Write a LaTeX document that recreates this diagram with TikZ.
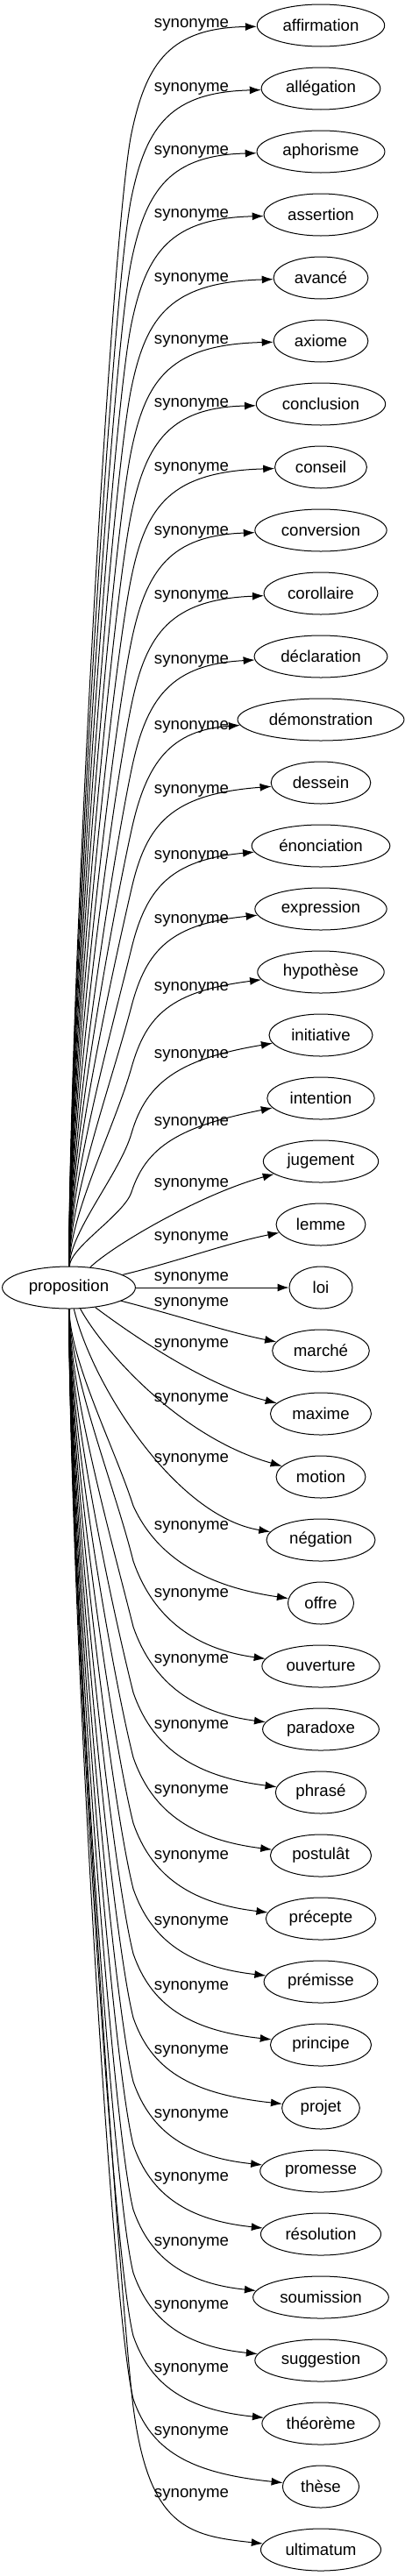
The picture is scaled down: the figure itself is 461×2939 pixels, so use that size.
\documentclass[tikz,border=0pt]{standalone}
\usepackage{fontspec}
\setmainfont{Liberation Sans}
\usetikzlibrary{arrows.meta,shapes.geometric}
\begin{document}
\begin{tikzpicture}[x=1pt,y=-1pt,font=\fontsize{18.67}{22}\selectfont,
  tnode/.style={draw,ellipse,inner xsep=8pt,inner ysep=2pt,minimum width=72pt,minimum height=48pt,line width=1pt},
  lbl/.style={inner sep=0pt},
  edge/.style={line width=1pt,-{Latex[length=13pt,width=9pt]}}]
\useasboundingbox (0,0) rectangle (461,2939);
\node[tnode] (p) at (78.5,1469) {proposition};
\foreach \i/\w in {0/affirmation,1/allégation,2/aphorisme,3/assertion,4/avancé,5/axiome,6/conclusion,7/conseil,8/conversion,9/corollaire,10/déclaration,11/démonstration,12/dessein,13/énonciation,14/expression,15/hypothèse,16/initiative,17/intention,18/jugement,19/lemme,20/loi,21/marché,22/maxime,23/motion,24/négation,25/offre,26/ouverture,27/paradoxe,28/phrasé,29/postulât,30/précepte,31/prémisse,32/principe,33/projet,34/promesse,35/résolution,36/soumission,37/suggestion,38/théorème,39/thèse,40/ultimatum}
  \node[tnode] (t\i) at (366,{29+72*\i}) {\w};
\foreach \i/\y in {0/28,1/101,2/173,3/245,4/318,5/389,6/461,7/534,8/607,9/680,10/754,11/829,12/902,13/977,14/1050,15/1127,16/1204,17/1281,18/1351,19/1412,20/1458,21/1487,22/1534,23/1596,24/1665,25/1742,26/1819,27/1894,28/1969,29/2043,30/2118,31/2193,32/2267,33/2340,34/2413,35/2485,36/2559,37/2631,38/2703,39/2775,40/2846}
  \node[lbl] (l\i) at (218.5,\y) {synonyme};
% upper edges
\draw[edge] (p) .. controls (80,1096.6) and (127.6,260) .. (150,152) .. controls (167,70.2) and (195,32) .. (t0);
\draw[edge] (p) .. controls (80,1116.3) and (127.6,333) .. (150,225) .. controls (167,143.2) and (195,105) .. (t1);
\draw[edge] (p) .. controls (80,1135.8) and (127.6,405) .. (150,297) .. controls (167,215.2) and (195,177) .. (t2);
\draw[edge] (p) .. controls (80,1155.5) and (127.6,477) .. (150,369) .. controls (167,287.2) and (195,249) .. (t3);
\draw[edge] (p) .. controls (80,1175.2) and (127.6,550) .. (150,442) .. controls (167,360.2) and (195,322) .. (t4);
\draw[edge] (p) .. controls (80,1194.1) and (127.6,621) .. (150,513) .. controls (167,431.2) and (195,393) .. (t5);
\draw[edge] (p) .. controls (80,1213.5) and (127.6,693) .. (150,585) .. controls (167,503.2) and (195,465) .. (t6);
\draw[edge] (p) .. controls (80,1233.2) and (127.6,766) .. (150,658) .. controls (167,576.2) and (195,538) .. (t7);
\draw[edge] (p) .. controls (80,1253.0) and (127.6,839) .. (150,731) .. controls (167,649.2) and (195,611) .. (t8);
\draw[edge] (p) .. controls (80,1272.7) and (127.6,912) .. (150,804) .. controls (167,722.2) and (195,684) .. (t9);
\draw[edge] (p) .. controls (80,1292.6) and (127.6,986) .. (150,878) .. controls (167,796.2) and (195,758) .. (t10);
\draw[edge] (p) .. controls (80,1311.3) and (126.4,1055) .. (150,947) .. controls (167,869.1) and (195,833) .. (t11);
\draw[edge] (p) .. controls (80,1329.4) and (125.2,1122) .. (150,1014) .. controls (167,940.1) and (195,906) .. (t12);
\draw[edge] (p) .. controls (80,1347.7) and (123.5,1190) .. (150,1082) .. controls (167,1012.7) and (195,981) .. (t13);
\draw[edge] (p) .. controls (80,1365.5) and (126.5,1237.4) .. (150,1148) .. controls (167,1083.3) and (195,1054) .. (t14);
\draw[edge] (p) .. controls (80,1384.4) and (130.6,1286.4) .. (150,1218) .. controls (167,1157.9) and (195,1131) .. (t15);
\draw[edge] (p) .. controls (80,1404.7) and (136.7,1338.9) .. (150,1293) .. controls (167,1234.3) and (205,1208) .. (t16);
\draw[edge] (p) .. controls (80,1422.8) and (141.6,1385.8) .. (150,1360) .. controls (167,1307.9) and (205,1285) .. (t17);
\draw[edge] (p) .. controls (130,1420) and (230,1362) .. (t18);
\draw[edge] (p) .. controls (200,1440) and (260,1418) .. (t19);
\draw[edge] (p) -- (t20);
% lower edges
\draw[edge] (p) .. controls (200,1500) and (260,1520) .. (t21);
\draw[edge] (p) .. controls (140,1515) and (230,1580) .. (t22);
\draw[edge] (p) .. controls (117,1540) and (205,1640) .. (t23);
\draw[edge] (p) .. controls (105,1580) and (200,1730) .. (t24);
\draw[edge] (p) .. controls (80,1553) and (130,1650) .. (152,1718) .. controls (172,1762) and (215,1807) .. (t25);
\draw[edge] (p) .. controls (80,1570) and (130.3,1694.3) .. (152,1781) .. controls (172,1839) and (215,1880.5) .. (t26);
\draw[edge] (p) .. controls (80,1590.3) and (127,1756) .. (152,1856) .. controls (172,1914) and (215,1953.3) .. (t27);
\draw[edge] (p) .. controls (80,1610.5) and (127,1831) .. (152,1931) .. controls (172,1989) and (215,2026) .. (t28);
\draw[edge] (p) .. controls (80,1630.5) and (127,1905) .. (152,2005) .. controls (172,2063) and (215,2098.5) .. (t29);
\draw[edge] (p) .. controls (80,1650.8) and (127,1980) .. (152,2080) .. controls (172,2138) and (215,2171.3) .. (t30);
\draw[edge] (p) .. controls (80,1671) and (127,2055) .. (152,2155) .. controls (172,2213) and (215,2244) .. (t31);
\draw[edge] (p) .. controls (80,1691) and (127,2129) .. (152,2229) .. controls (172,2287) and (215,2316.5) .. (t32);
\draw[edge] (p) .. controls (80,1710.7) and (127,2202) .. (152,2302) .. controls (172,2360) and (215,2388.8) .. (t33);
\draw[edge] (p) .. controls (80,1730.4) and (127,2275) .. (152,2375) .. controls (172,2433) and (215,2461) .. (t34);
\draw[edge] (p) .. controls (80,1749.9) and (127,2347) .. (152,2447) .. controls (172,2505) and (215,2533) .. (t35);
\draw[edge] (p) .. controls (80,1769.8) and (127,2421) .. (152,2521) .. controls (172,2579) and (215,2605.5) .. (t36);
\draw[edge] (p) .. controls (80,1789.3) and (127,2493) .. (152,2593) .. controls (172,2651) and (215,2677.5) .. (t37);
\draw[edge] (p) .. controls (80,1808.7) and (127,2565) .. (152,2665) .. controls (172,2723) and (215,2749.5) .. (t38);
\draw[edge] (p) .. controls (80,1828.2) and (127,2637) .. (152,2737) .. controls (172,2795) and (215,2821.5) .. (t39);
\draw[edge] (p) .. controls (80,1830.6) and (139,2646) .. (152,2746) .. controls (170,2884) and (215,2893) .. (t40);
\end{tikzpicture}
\end{document}
